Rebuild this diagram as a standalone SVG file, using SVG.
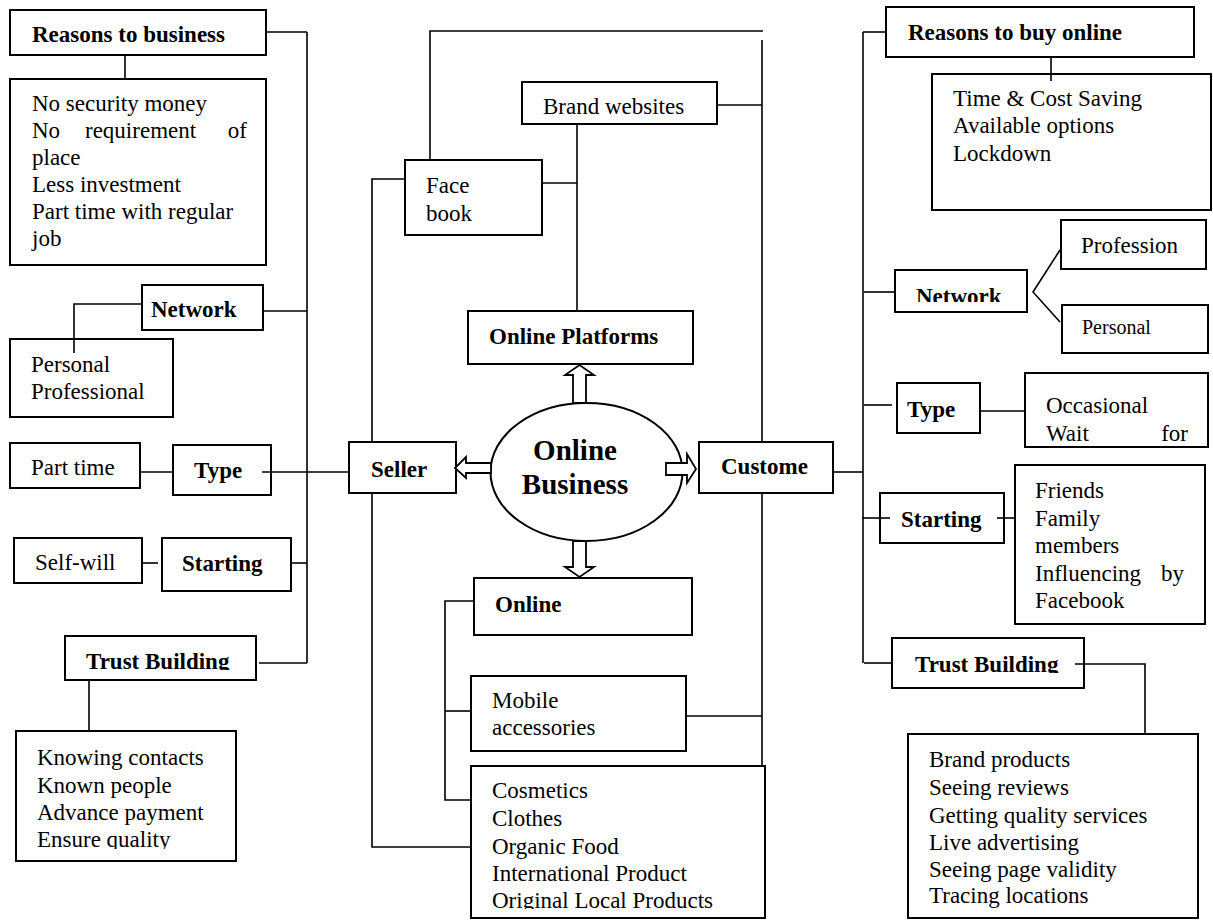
<svg xmlns="http://www.w3.org/2000/svg" width="1213" height="920" viewBox="0 0 1213 920">
<style>
.box{fill:#fff;stroke:#000;stroke-width:2}
.ln{fill:none;stroke:#000;stroke-width:1.6}
.arr{fill:#fff;stroke:#000;stroke-width:1.8;stroke-linejoin:miter}
text{font-family:"Liberation Serif","Times New Roman",serif;font-size:23px;fill:#000}
.b{font-weight:bold}
.big{font-size:29px;font-weight:bold}
.sm{font-size:20px}
</style>
<defs>
<clipPath id="cBrand"><rect x="522" y="82" width="195" height="33"/></clipPath>
<clipPath id="cTrustL"><rect x="65" y="636" width="191" height="34"/></clipPath>
<clipPath id="cNetR"><rect x="895" y="270" width="132" height="32"/></clipPath>
<clipPath id="cTrustR"><rect x="892" y="638" width="192" height="35"/></clipPath>
<clipPath id="cKnow"><rect x="16" y="731" width="220" height="118"/></clipPath>
<clipPath id="cCos"><rect x="471" y="766" width="294" height="143"/></clipPath>
</defs>
<rect width="1213" height="920" fill="#fff"/>

<g id="reasons-business"><rect class="box" x="10" y="10" width="256" height="45"/><text class="b" x="32" y="42">Reasons to business</text></g>
<g id="reasons-business-list"><rect class="box" x="10" y="79" width="256" height="186"/>
<text x="32" y="111">No security money</text>
<text x="32" y="138">No</text><text x="85" y="138">requirement</text><text x="247" y="138" text-anchor="end">of</text>
<text x="32" y="165">place</text>
<text x="32" y="192">Less investment</text>
<text x="32" y="219">Part time with regular</text>
<text x="32" y="246">job</text></g>
<g id="network-left"><rect class="box" x="142" y="285" width="121" height="45"/><text class="b" x="151" y="317">Network</text></g>
<g id="personal-left"><rect class="box" x="10" y="339" width="163" height="78"/><text x="31" y="372">Personal</text><text x="31" y="399">Professional</text></g>
<g id="parttime"><rect class="box" x="10" y="443" width="130" height="45"/><text x="31" y="475">Part time</text></g>
<g id="type-left"><rect class="box" x="173" y="445" width="98" height="50"/><text class="b" x="194" y="478">Type</text></g>
<g id="selfwill"><rect class="box" x="14" y="538" width="128" height="45"/><text x="35" y="570">Self-will</text></g>
<g id="starting-left"><rect class="box" x="162" y="538" width="129" height="53"/><text class="b" x="182" y="571">Starting</text></g>
<g id="trust-left"><rect class="box" x="65" y="636" width="191" height="44"/><text class="b" x="86" y="669" clip-path="url(#cTrustL)">Trust Building</text></g>
<g id="trust-left-list"><rect class="box" x="16" y="731" width="220" height="130"/>
<g clip-path="url(#cKnow)"><text x="37" y="765">Knowing contacts</text><text x="37" y="793">Known people</text><text x="37" y="820">Advance payment</text><text x="37" y="847">Ensure quality</text></g></g>

<g id="brand"><rect class="box" x="522" y="82" width="195" height="42"/><text x="543" y="114" clip-path="url(#cBrand)">Brand websites</text></g>
<g id="facebook"><rect class="box" x="405" y="160" width="137" height="75"/><text x="426" y="193">Face</text><text x="426" y="221">book</text></g>
<g id="platforms"><rect class="box" x="468" y="311" width="225" height="53"/><text class="b" x="489" y="344">Online Platforms</text></g>
<g id="seller"><rect class="box" x="349" y="442" width="107" height="51"/><text class="b" x="371" y="477">Seller</text></g>
<g id="customer"><rect class="box" x="699" y="442" width="134" height="51"/><text class="b" x="721" y="474">Custome</text></g>
<g id="online"><rect class="box" x="474" y="578" width="218" height="57"/><text class="b" x="495" y="612">Online</text></g>
<g id="mobile"><rect class="box" x="471" y="676" width="215" height="75"/><text x="492" y="708">Mobile</text><text x="492" y="735">accessories</text></g>
<g id="products"><rect class="box" x="471" y="766" width="294" height="152"/>
<g clip-path="url(#cCos)"><text x="492" y="798">Cosmetics</text><text x="492" y="826">Clothes</text><text x="492" y="854">Organic Food</text><text x="492" y="881">International Product</text><text x="492" y="908">Original Local Products</text></g></g>

<g id="reasons-buy"><rect class="box" x="886" y="7" width="308" height="50"/><text class="b" x="908" y="40">Reasons to buy online</text></g>
<g id="reasons-buy-list"><rect class="box" x="932" y="74" width="279" height="136"/><text x="953" y="106">Time &amp; Cost Saving</text><text x="953" y="133">Available options</text><text x="953" y="161">Lockdown</text></g>
<g id="network-right"><rect class="box" x="895" y="270" width="132" height="42"/><text class="b" x="916" y="304" clip-path="url(#cNetR)">Network</text></g>
<g id="profession"><rect class="box" x="1061" y="220" width="145" height="49"/><text x="1081" y="253">Profession</text></g>
<g id="personal-right"><rect class="box" x="1062" y="305" width="146" height="48"/><text class="sm" x="1082" y="334">Personal</text></g>
<g id="type-right"><rect class="box" x="897" y="383" width="83" height="50"/><text class="b" x="907" y="417">Type</text></g>
<g id="occasional"><rect class="box" x="1025" y="373" width="183" height="74"/><text x="1046" y="413">Occasional</text><text x="1046" y="441">Wait</text><text x="1188" y="441" text-anchor="end">for</text></g>
<g id="starting-right"><rect class="box" x="880" y="493" width="124" height="50"/><text class="b" x="901" y="527">Starting</text></g>
<g id="friends"><rect class="box" x="1015" y="465" width="190" height="159"/><text x="1035" y="498">Friends</text><text x="1035" y="526">Family</text><text x="1035" y="553">members</text><text x="1035" y="581">Influencing</text><text x="1184" y="581" text-anchor="end">by</text><text x="1035" y="608">Facebook</text></g>
<g id="trust-right"><rect class="box" x="892" y="638" width="192" height="50"/><text class="b" x="915" y="672" clip-path="url(#cTrustR)">Trust Building</text></g>
<g id="trust-right-list"><rect class="box" x="908" y="734" width="290" height="184"/><text x="929" y="767">Brand products</text><text x="929" y="795">Seeing reviews</text><text x="929" y="823">Getting quality services</text><text x="929" y="850">Live advertising</text><text x="929" y="877">Seeing page validity</text><text x="929" y="903">Tracing locations</text></g>

<g id="connectors">
<path class="ln" d="M307,32 V663"/>
<path class="ln" d="M266,32 H307"/>
<path class="ln" d="M125,55 V79"/>
<path class="ln" d="M263,311 H307"/>
<path class="ln" d="M142,304 H74 V353"/>
<path class="ln" d="M140,472 H173"/>
<path class="ln" d="M262,472 H349"/>
<path class="ln" d="M142,563 H158"/>
<path class="ln" d="M291,563 H307"/>
<path class="ln" d="M259,663 H307"/>
<path class="ln" d="M89,680 V731"/>
<path class="ln" d="M430,160 V31 H763"/>
<path class="ln" d="M762,40 V442"/>
<path class="ln" d="M762,493 V766"/>
<path class="ln" d="M717,105 H762"/>
<path class="ln" d="M577,124 V311"/>
<path class="ln" d="M542,183 H577"/>
<path class="ln" d="M405,179 H372 V442"/>
<path class="ln" d="M372,493 V847 H471"/>
<path class="ln" d="M474,601 H445 V800 H471"/>
<path class="ln" d="M445,711 H471"/>
<path class="ln" d="M686,716 H762"/>
<path class="ln" d="M833,472 H863"/>
<path class="ln" d="M863,32 V663"/>
<path class="ln" d="M863,32 H886"/>
<path class="ln" d="M1051,57 V81"/>
<path class="ln" d="M864,292 H895"/>
<path class="ln" d="M1060,250 L1033,292 L1060,322"/>
<path class="ln" d="M864,405 H892"/>
<path class="ln" d="M980,411 H1024"/>
<path class="ln" d="M862,518 H890"/>
<path class="ln" d="M997,518 H1015"/>
<path class="ln" d="M864,663 H892"/>
<path class="ln" d="M1075,664 H1145 V734"/>
</g>

<g id="center">
<ellipse class="box" cx="586.5" cy="472" rx="96" ry="69"/>
<text class="big" x="575" y="460" text-anchor="middle">Online</text>
<text class="big" x="575" y="494" text-anchor="middle">Business</text>
<polygon class="arr" points="573,403 573,375 565,375 579.5,365 594,375 586,375 586,403"/>
<polygon class="arr" points="573,541 573,567 565,567 579.5,577 594,567 586,567 586,541"/>
<polygon class="arr" points="491,463 466,463 466,457 455,468 466,478 466,473 491,473"/>
<polygon class="arr" points="666,463 687,463 687,454 696,469 687,483 687,475 666,475"/>
</g>
</svg>
